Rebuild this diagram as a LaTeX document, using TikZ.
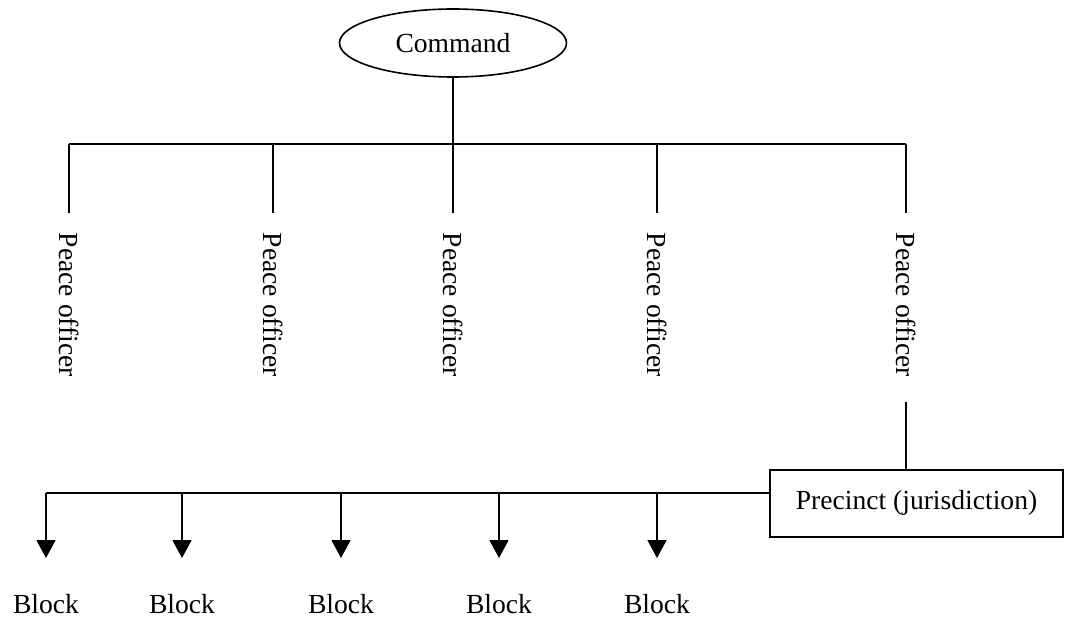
\documentclass[tikz,border=0pt]{standalone}
\usepackage{fontspec}
\setmainfont{Liberation Serif}
\usetikzlibrary{shapes.geometric}
\usetikzlibrary{arrows.meta}
\usetikzlibrary{positioning}

\tikzset{
  chart line/.style = {line width = 0.8pt},
  officer/.style = {rotate = -90, anchor = west, inner sep = 0pt},
  blocklabel/.style = {anchor = base, inner sep = 0pt},
  down arrow/.style = {-{Triangle[width = 9.5pt, length = 9pt]}}
}

\begin{document}
\begin{tikzpicture}[x = 0.5pt, y = -0.5pt, chart line, font = \fontsize{13.8}{16}\selectfont]
\useasboundingbox (0, 0) rectangle (1065, 620);
\node[draw, ellipse, minimum width = 113.5pt, minimum height = 34pt, inner sep = 0pt] (command) at (453, 43) {Command};
\coordinate (top bus) at (453, 144);
\draw (command.south) -- (command.south |- top bus);
\foreach \n/\x in {1/69, 2/273, 3/453, 4/657, 5/906} {
  \node[officer] (officer\n) at (\x, 232) {Peace officer};
  \draw (officer\n.west |- top bus) -- ([yshift = 9.5pt]officer\n.west);
}
\draw (officer1.west |- top bus) -- (officer5.west |- top bus);
\node[draw, minimum width = 146.5pt, minimum height = 33.5pt, text depth = 4pt] (precinct) at (916.5, 503.5) {Precinct (jurisdiction)};
\draw ([yshift = -12pt]officer5.east) -- (precinct.north -| officer5.east);
\coordinate (bottom bus) at (46, 493);
\draw (precinct.west |- bottom bus) -- (bottom bus);
\foreach \n/\x in {1/46, 2/182, 3/341, 4/499, 5/657} {
  \node[blocklabel] (block\n) at (\x, 613) {Block};
  \draw[down arrow] (block\n.north |- bottom bus) -- ([yshift = 17.5pt]block\n.north);
}
\end{tikzpicture}
\end{document}
